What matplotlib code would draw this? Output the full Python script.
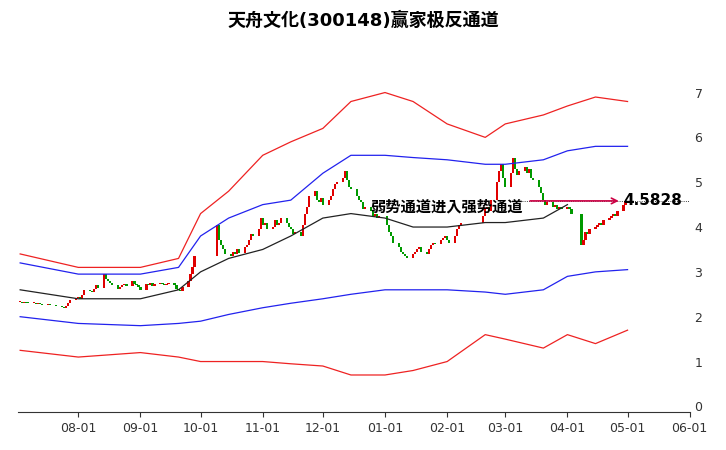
import numpy as np
import pandas as pd
import matplotlib.pyplot as plt
import matplotlib.dates as mdates
from matplotlib import font_manager

cjk = sorted({f.name for f in font_manager.fontManager.ttflist
              if 'CJK' in f.name and 'Sans' in f.name})
plt.rcParams['font.family'] = ['DejaVu Sans'] + (cjk[:1] if cjk else ['Noto Sans CJK SC'])

closes = [2.32, 2.30, 2.33, 2.31, 2.30,
          2.30, 2.28, 2.31, 2.29, 2.27, 2.28, 2.26, 2.25, 2.27, 2.24,
          2.22, 2.20, 2.24, 2.30, 2.38, 2.42, 2.45, 2.40, 2.48, 2.60,
          2.58, 2.55, 2.62, 2.70, 2.65, 2.95, 2.85, 2.80, 2.75, 2.70,
          2.62, 2.66, 2.70, 2.72, 2.68, 2.80, 2.72, 2.70, 2.66, 2.60,
          2.72, 2.70, 2.75, 2.68, 2.72, 2.76, 2.74, 2.70, 2.72, 2.75,
          2.70, 2.62, 2.60, 2.58, 2.66, 2.80, 2.95, 3.10, 3.35,
          4.05, 3.70, 3.60, 3.50, 3.40, 3.35, 3.45, 3.40, 3.50, 3.42,
          3.55, 3.60, 3.70, 3.85, 3.80, 3.95, 4.20, 4.05, 4.10, 3.95,
          4.00, 4.15, 4.05, 4.10, 4.20, 4.10, 4.00, 3.95, 3.85, 3.90,
          3.80, 4.05, 4.30, 4.45, 4.70, 4.80, 4.60, 4.55, 4.65, 4.50,
          4.60, 4.70, 4.85, 4.95, 5.00, 5.10, 5.25, 5.05, 4.90, 4.85,
          4.70, 4.60, 4.55, 4.40, 4.45, 4.35, 4.25, 4.30, 4.20, 4.25,
          4.05, 3.90, 3.80, 3.65, 3.55, 3.45, 3.40, 3.35, 3.30,
          3.40, 3.45, 3.50, 3.55, 3.45, 3.40, 3.50, 3.60, 3.65, 3.62,
          3.70, 3.75, 3.80, 3.72, 3.65, 3.80, 3.95, 4.05, 4.10,
          4.25, 4.40, 4.45, 4.35, 4.60, 5.00, 5.25, 5.40, 5.10, 4.90,
          5.20, 5.55, 5.30, 5.15, 5.25, 5.35, 5.20, 5.30, 5.10, 5.05,
          4.90, 4.75, 4.60, 4.50, 4.55, 4.45, 4.50, 4.40, 4.45, 4.40,
          4.45, 4.40, 4.30, 3.60, 3.70, 3.90, 3.85, 3.95,
          4.00, 4.05, 4.10, 4.05, 4.15, 4.20, 4.25, 4.30, 4.25, 4.35,
          4.50, 4.58]

holidays = ['2023-09-29', '2023-10-02', '2023-10-03', '2023-10-04', '2023-10-05',
            '2023-10-06', '2024-01-01', '2024-02-09', '2024-02-12', '2024-02-13',
            '2024-02-14', '2024-02-15', '2024-02-16', '2024-04-04', '2024-04-05']

band_dates = ['2023-07-03', '2023-08-01', '2023-09-01', '2023-09-20', '2023-10-01',
              '2023-10-15', '2023-11-01', '2023-11-15', '2023-12-01', '2023-12-15',
              '2024-01-01', '2024-01-15', '2024-02-01', '2024-02-20', '2024-03-01',
              '2024-03-20', '2024-04-01', '2024-04-15', '2024-05-01']
red_upper = [3.4, 3.1, 3.1, 3.3, 4.3, 4.8, 5.6, 5.9, 6.2, 6.8, 7.0, 6.8, 6.3, 6.0, 6.3, 6.5, 6.7, 6.9, 6.8]
blue_upper = [3.2, 2.95, 2.95, 3.1, 3.8, 4.2, 4.5, 4.6, 5.2, 5.6, 5.6, 5.55, 5.5, 5.4, 5.4, 5.5, 5.7, 5.8, 5.8]
blue_lower = [2.0, 1.85, 1.8, 1.85, 1.9, 2.05, 2.2, 2.3, 2.4, 2.5, 2.6, 2.6, 2.6, 2.55, 2.5, 2.6, 2.9, 3.0, 3.05]
red_lower = [1.25, 1.1, 1.2, 1.1, 1.0, 1.0, 1.0, 0.95, 0.9, 0.7, 0.7, 0.8, 1.0, 1.6, 1.5, 1.3, 1.6, 1.4, 1.7]
mid_dates = band_dates[:17]
mid_line = [2.6, 2.4, 2.4, 2.6, 3.0, 3.3, 3.5, 3.8, 4.2, 4.3, 4.2, 4.0, 4.0, 4.1, 4.1, 4.2, 4.5]

yticks = [0, 1, 2, 3, 4, 5, 6, 7]
last_price = 4.5828

dates = pd.bdate_range('2023-07-03', '2024-05-10')
dates = dates[~dates.isin(pd.to_datetime(holidays))][:len(closes)]
opens = [closes[0]] + closes[:-1]

fig = plt.figure(figsize=(7.26, 4.5), dpi=100)
ax = fig.add_axes([0.025, 0.084, 0.925, 0.806])

bd = pd.to_datetime(band_dates)
ax.plot(bd, red_upper, color='#ee2222', lw=0.9)
ax.plot(bd, red_lower, color='#ee2222', lw=0.9)
ax.plot(bd, blue_upper, color='#2222ee', lw=0.9)
ax.plot(bd, blue_lower, color='#2222ee', lw=0.9)
ax.plot(pd.to_datetime(mid_dates), mid_line, color='#222222', lw=0.9)

for d, o, c in zip(dates, opens, closes):
    col = '#e00000' if c >= o else '#009900'
    h = abs(c - o) if abs(c - o) > 0.02 else 0.02
    ax.bar(d, h, bottom=min(o, c), width=1.1, color=col)

ax.axhline(last_price, xmin=0.75, color='black', lw=0.6, ls=':')
ax.annotate('', xy=(pd.Timestamp('2024-04-28'), last_price),
            xytext=(pd.Timestamp('2024-03-12'), last_price),
            arrowprops=dict(arrowstyle='->', color='#cc0044', lw=1.2))
ax.text(pd.Timestamp('2024-03-10'), 4.45, '弱势通道进入强势通道', ha='right', va='center',
        fontsize=11, fontweight='bold')
ax.text(pd.Timestamp('2024-04-29'), last_price, '4.5828', ha='left', va='center',
        fontsize=11, fontweight='bold')

ax.set_xlim(pd.Timestamp('2023-07-02'), pd.Timestamp('2024-06-01'))
ax.set_ylim(-0.13, 7.96)
ax.xaxis.set_major_locator(mdates.MonthLocator())
ax.xaxis.set_major_formatter(mdates.DateFormatter('%m-%d'))
ax.yaxis.tick_right()
ax.set_yticks(yticks)
ax.tick_params(axis='y', length=0, labelsize=9, colors='#333333')
ax.tick_params(axis='x', labelsize=9, colors='#333333')
for s in ['top', 'right', 'left']:
    ax.spines[s].set_visible(False)
ax.spines['bottom'].set_color('#333333')

fig.suptitle('天舟文化(300148)赢家极反通道', y=0.975, fontsize=13, fontweight='bold')

fig.savefig('out.png', dpi=100)
